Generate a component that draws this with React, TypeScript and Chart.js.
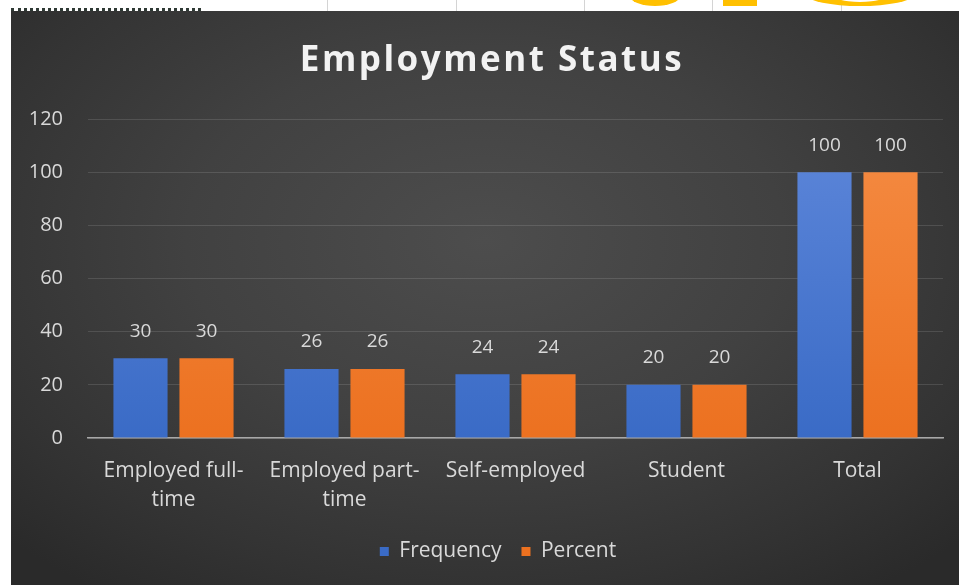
import React, { useEffect, useRef } from "react";
import { Chart, registerables } from "chart.js";

Chart.register(...registerables);

const chartTitle = "Employment Status";
const categories: (string | string[])[] = [
  ["Employed full-", "time"],
  ["Employed part-", "time"],
  "Self-employed",
  "Student",
  "Total",
];
const seriesNames = ["Frequency", "Percent"];
const frequency = [30, 26, 24, 20, 100];
const percent = [30, 26, 24, 20, 100];
const yMin = 0;
const yMax = 120;
const yStep = 20;

const FONT = "'Open Sans', 'DejaVu Sans', sans-serif";
const TEXT = "#d9d9d9";

function barGradient(ctx: any, top: string, bottom: string) {
  const chart = ctx.chart;
  const area = chart.chartArea;
  if (!area) return bottom;
  const g = chart.ctx.createLinearGradient(0, area.top, 0, area.bottom);
  g.addColorStop(0, top);
  g.addColorStop(1, bottom);
  return g;
}

const titlePlugin = {
  id: "customTitle",
  afterDraw(chart: any) {
    const ctx = chart.ctx;
    ctx.save();
    (ctx as any).letterSpacing = "2.5px";
    ctx.font = `bold 35px ${FONT}`;
    ctx.fillStyle = "#f2f2f2";
    ctx.textAlign = "center";
    ctx.textBaseline = "middle";
    ctx.fillText(chartTitle, 481, 50);
    ctx.restore();
  },
};

const legendShift = {
  id: "legendShift",
  afterLayout(chart: any) {
    const l = chart.legend;
    if (l) {
      l.left += 21;
      l.right += 21;
    }
  },
};

const valueLabels = {
  id: "valueLabels",
  afterDatasetsDraw(chart: any) {
    const ctx = chart.ctx;
    ctx.save();
    ctx.font = `19px ${FONT}`;
    ctx.fillStyle = TEXT;
    ctx.textAlign = "center";
    ctx.textBaseline = "middle";
    chart.data.datasets.forEach((ds: any, i: number) => {
      const meta = chart.getDatasetMeta(i);
      meta.data.forEach((bar: any, j: number) => {
        ctx.fillText(String(ds.data[j]), bar.x, bar.y - 27);
      });
    });
    ctx.restore();
  },
};

export default function App() {
  const ref = useRef<HTMLCanvasElement | null>(null);

  useEffect(() => {
    document.body.style.margin = "0";
    if (!ref.current) return;
    const chart = new Chart(ref.current, {
      type: "bar",
      data: {
        labels: categories,
        datasets: [
          {
            label: seriesNames[0],
            data: frequency,
            backgroundColor: (c: any) => barGradient(c, "#5e87da", "#3a6bc6"),
            categoryPercentage: 0.772,
            barPercentage: 0.82,
          },
          {
            label: seriesNames[1],
            data: percent,
            backgroundColor: (c: any) => barGradient(c, "#f58c44", "#ec7120"),
            categoryPercentage: 0.772,
            barPercentage: 0.82,
          },
        ],
      },
      options: {
        animation: false,
        responsive: true,
        maintainAspectRatio: false,
        layout: { padding: { top: 108, right: 16, bottom: 13, left: 0 } },
        plugins: {
          title: { display: false },
          tooltip: { enabled: false },
          legend: {
            position: "bottom",
            labels: {
              color: TEXT,
              font: { family: FONT, size: 21 },
              boxWidth: 9,
              boxHeight: 9,
              padding: 20,
            },
          },
        },
        scales: {
          x: {
            grid: { display: false, drawTicks: false },
            border: { display: true, color: "#a8a8a8", width: 1.5 },
            ticks: {
              color: TEXT,
              font: { family: FONT, size: 21, lineHeight: 1.38 },
              padding: 19,
              maxRotation: 0,
              autoSkip: false,
            },
            afterFit(scale: any) {
              scale.height = 83;
            },
          },
          y: {
            min: yMin,
            max: yMax,
            grid: { color: "rgba(255,255,255,0.12)", drawTicks: false },
            border: { display: false },
            ticks: {
              stepSize: yStep,
              color: TEXT,
              font: { family: FONT, size: 20 },
              padding: 25,
            },
            afterFit(scale: any) {
              scale.width = 77;
            },
          },
        },
      },
      plugins: [titlePlugin, valueLabels, legendShift],
    } as any);
    return () => chart.destroy();
  }, []);

  const gridX = [327, 456, 584, 712, 841];

  return (
    <div style={{ position: "relative", width: 959, height: 585, background: "#ffffff", overflow: "hidden" }}>
      {gridX.map((x) => (
        <div key={x} style={{ position: "absolute", left: x, top: 0, width: 1, height: 11, background: "#d4d4d4" }} />
      ))}
      <div style={{ position: "absolute", left: 11, top: 8, width: 190, height: 3, borderTop: "3px dotted #2f3a35", boxSizing: "border-box" }} />
      <div style={{ position: "absolute", left: 630, top: -14, width: 50, height: 20, borderRadius: "50%", border: "6px solid #ffc000", borderTop: "none", borderRight: "none", boxSizing: "border-box" }} />
      <div style={{ position: "absolute", left: 723, top: 0, width: 34, height: 6, background: "#ffc000" }} />
      <div style={{ position: "absolute", left: 807, top: -16, width: 106, height: 22, borderRadius: "50%", background: "#ffc000" }} />
      <div style={{ position: "absolute", left: 830, top: -16, width: 60, height: 18, borderRadius: "50%", background: "#ffffff" }} />
      <div
        style={{
          position: "absolute",
          left: 11,
          top: 11,
          width: 948,
          height: 574,
          background: "radial-gradient(ellipse 70% 75% at 50% 40%, #4d4d4d 0%, #414141 45%, #333333 80%, #2a2a2a 100%)",
        }}
      >
        <canvas ref={ref} />
      </div>
    </div>
  );
}
